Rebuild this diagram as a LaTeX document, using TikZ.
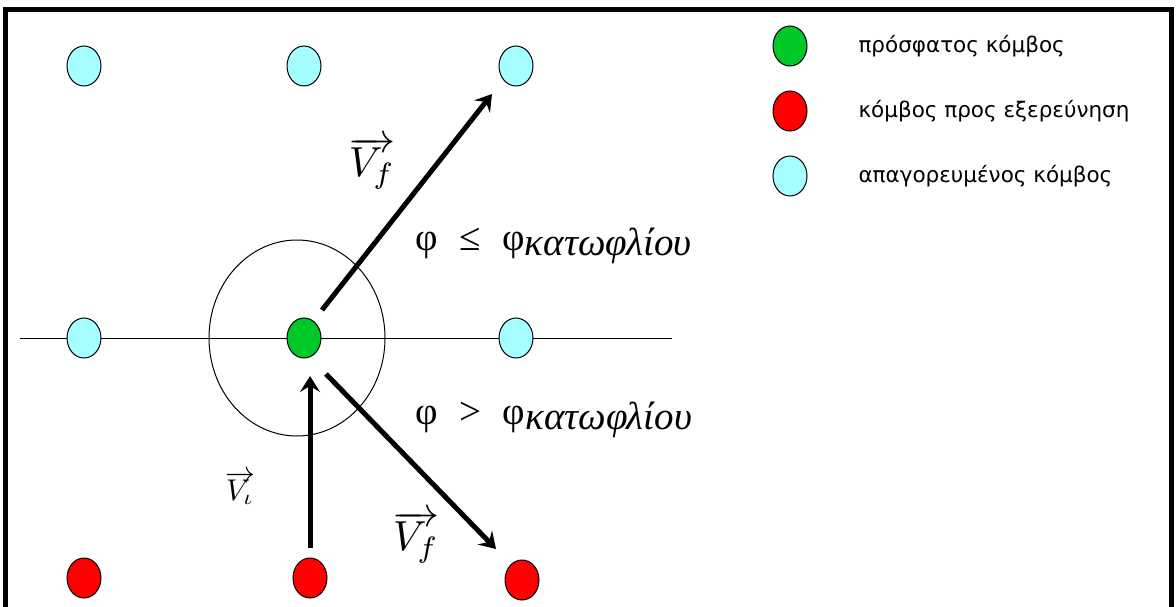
\documentclass[tikz,border=0pt]{standalone}
\usepackage{fontspec}
\usepackage{graphicx}
\setmainfont{Liberation Serif}
\newfontfamily\legendfont{DejaVu Sans}
\usetikzlibrary{arrows.meta,shapes.geometric}
\definecolor{kgreen}{RGB}{0,200,40}
\definecolor{kred}{RGB}{255,0,0}
\definecolor{kcyan}{RGB}{166,255,255}
\begin{document}
\begin{tikzpicture}[x=1pt,y=-1pt,
  knode/.style={ellipse,draw=black,line width=1pt,minimum width=34pt,minimum height=40pt,inner sep=0pt},
  cur/.style={knode,fill=kgreen},
  expl/.style={knode,fill=kred},
  forb/.style={knode,fill=kcyan},
  vec/.style={line width=5pt,-{Stealth[length=16pt,width=20pt,inset=6pt]}},
  leg/.style={font=\legendfont\fontsize{21.5}{24}\selectfont,anchor=west},
  mth/.style={font=\fontsize{39}{42}\selectfont,anchor=west}]
\useasboundingbox (0,0) rectangle (1176,607);
\fill[white] (0,0) rectangle (1176,607);
\draw[line width=5pt] (5.5,620) -- (5.5,9.5) -- (1171,9.5) -- (1171,620);
% axis line and circle
\draw[line width=1pt] (20,338) -- (672,338);
\draw[line width=1pt] (297,338) ellipse [x radius=88, y radius=98];
% nodes
\node[forb] (t1) at (84,66) {};
\node[forb] (t2) at (304,66) {};
\node[forb] (t3) at (516,66) {};
\node[forb] (m1) at (84,338) {};
\node[cur]  (m2) at (304,338) {};
\node[forb] (m3) at (516,338) {};
\node[expl] (b1) at (84,578) {};
\node[expl] (b2) at (310,578) {};
\node[expl] (b3) at (522,580) {};
% arrows
\coordinate (a1s) at (322,310);
\coordinate (a1e) at (492,94);
\coordinate (a2s) at (310,548);
\coordinate (a2e) at (310,376);
\coordinate (a3s) at (326,374);
\coordinate (a3e) at (496,549);
\draw[vec] (a1s) -- (a1e);
\draw[vec] (a2s) -- (a2e);
\draw[vec] (a3s) -- (a3e);
% labels
\node[inner sep=0pt] (vf1) at (372,163) {\scalebox{4.2}{$\overrightarrow{V_f}$}};
\node[inner sep=0pt] (vi) at (240,488) {\scalebox{3.0}{$\overrightarrow{V_\iota}$}};
\node[inner sep=0pt] (vf2) at (416,537) {\scalebox{4.2}{$\overrightarrow{V_f}$}};
\node[mth] (le) at (412,246) {φ\hspace{0.55em}≤\hspace{0.55em}φ\raisebox{-0.12em}{\itshape κατωφλίου}};
\node[mth] (gt) at (412,420) {φ\hspace{0.55em}>\hspace{0.55em}φ\raisebox{-0.12em}{\itshape κατωφλίου}};
% legend
\node[cur]  (lg1) at (790,46) {};
\node[expl] (lg2) at (790,111) {};
\node[forb] (lg3) at (790,176) {};
\node[leg] (lt1) at (855,46) {πρόσφατος κόμβος};
\node[leg] (lt2) at (855,111) {κόμβος προς εξερεύνηση};
\node[leg] (lt3) at (855,176) {απαγορευμένος κόμβος};
\end{tikzpicture}
\end{document}
